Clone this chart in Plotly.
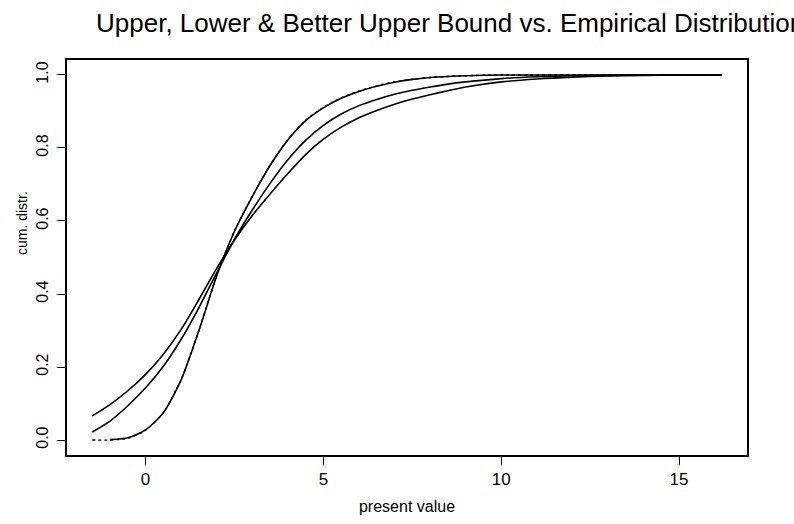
import plotly.graph_objects as go

# present value grid (x) and cumulative distribution values
x_vals = [-1.5, -1.0, -0.5, 0.0, 0.5, 1.0, 1.5, 2.0, 2.5, 3.0, 3.5, 4.0, 4.5, 5.0,
          5.5, 6.0, 6.5, 7.0, 7.5, 8.0, 8.5, 9.0, 10.0, 11.0, 12.0, 13.0, 14.0, 15.0, 16.2]

lower_bound = [0.066, 0.097, 0.135, 0.180, 0.235, 0.303, 0.385, 0.470, 0.548, 0.615,
               0.674, 0.730, 0.782, 0.824, 0.857, 0.883, 0.903, 0.920, 0.934, 0.946,
               0.957, 0.967, 0.981, 0.989, 0.994, 0.997, 0.999, 1.000, 1.000]

upper_bound = [0.022, 0.052, 0.094, 0.143, 0.202, 0.276, 0.363, 0.458, 0.550, 0.630,
               0.703, 0.768, 0.821, 0.862, 0.893, 0.916, 0.933, 0.947, 0.958, 0.967,
               0.975, 0.981, 0.990, 0.995, 0.998, 0.999, 1.000, 1.000, 1.000]

better_upper = [None, 0.001, 0.006, 0.028, 0.075, 0.165, 0.300, 0.450, 0.572, 0.667,
                0.752, 0.822, 0.875, 0.910, 0.936, 0.955, 0.969, 0.980, 0.988, 0.993,
                0.996, 0.998, 1.000, 1.000, 1.000, 1.000, 1.000, 1.000, 1.000]

empirical = [0.000, 0.000, 0.005, 0.027, 0.075, 0.166, 0.301, 0.451, 0.573, 0.668,
             0.753, 0.823, 0.876, 0.911, 0.937, 0.956, 0.970, 0.981, 0.988, 0.993,
             0.996, 0.998, 1.000, 1.000, 1.000, 1.000, 1.000, 1.000, 1.000]

x_ticks = [0, 5, 10, 15]
y_ticks = [0.0, 0.2, 0.4, 0.6, 0.8, 1.0]
y_tick_text = ["0.0", "0.2", "0.4", "0.6", "0.8", "1.0"]

title_text = "Upper, Lower & Better Upper Bound vs. Empirical Distribution"

fig = go.Figure()
line_style = dict(color="black", width=1.6, shape="spline", smoothing=0.7)
fig.add_trace(go.Scatter(x=x_vals, y=empirical, mode="lines", name="empirical",
                         line=dict(color="black", width=1.4, dash="dot", shape="spline", smoothing=0.7)))
fig.add_trace(go.Scatter(x=x_vals, y=lower_bound, mode="lines", name="lower bound", line=line_style))
fig.add_trace(go.Scatter(x=x_vals, y=upper_bound, mode="lines", name="upper bound", line=line_style))
fig.add_trace(go.Scatter(x=x_vals, y=better_upper, mode="lines", name="better upper bound",
                         line=line_style, connectgaps=False))

font_family = "Liberation Sans, Arial, sans-serif"

M_L, M_R, M_T, M_B = 67, 47, 60, 69
plot_h = 524 - M_T - M_B
plot_w = 794 - M_L - M_R

fig.update_layout(
    width=794, height=524,
    margin=dict(l=M_L, r=M_R, t=M_T, b=M_B, autoexpand=False),
    paper_bgcolor="white", plot_bgcolor="white",
    showlegend=False,
    font=dict(family=font_family, color="black", size=16),
    title=dict(text=title_text, x=96 / 794, xanchor="left", xref="container",
               y=1 - 14 / 524, yanchor="top", yref="container",
               font=dict(size=26, family=font_family, color="black")),
    xaxis=dict(range=[-2.21, 16.91], tickmode="array", tickvals=x_ticks,
               ticks="outside", ticklen=8, tickwidth=1.3, tickcolor="black",
               showline=True, linecolor="black", linewidth=1.5, mirror=True,
               showgrid=False, zeroline=False, automargin=False,
               tickfont=dict(size=17),
               title=dict(text="present value", font=dict(size=16), standoff=13)),
    yaxis=dict(range=[-0.041, 1.041], tickmode="array", tickvals=y_ticks, ticktext=y_tick_text,
               ticks="outside", ticklen=8, tickwidth=1.3, tickcolor="black",
               showline=True, linecolor="black", linewidth=1.5, mirror=True,
               showgrid=False, zeroline=False, tickangle=-90, automargin=False,
               ticklabelstandoff=3,
               tickfont=dict(size=16)),
    annotations=[dict(text="cum. distr.", x=(22 - M_L) / plot_w, y=(455 - 223) / plot_h,
                      xref="paper", yref="paper",
                      xanchor="center", yanchor="middle", showarrow=False, textangle=-90,
                      font=dict(size=14, family=font_family, color="black"))],
)

fig.write_html("out.html",
               config={"displayModeBar": False},
               post_script="document.body.style.margin='0';document.body.style.overflow='hidden';")
